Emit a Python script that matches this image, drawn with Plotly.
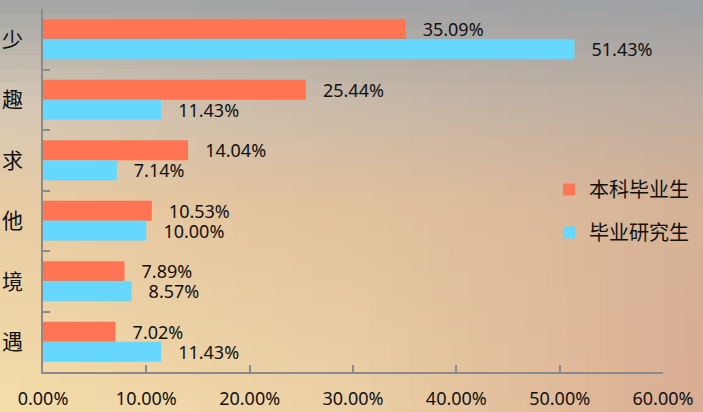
import plotly.graph_objects as go

# ---- data ----
categories = ["少", "趣", "求", "他", "境", "遇"]
undergrad = [35.09, 25.44, 14.04, 10.53, 7.89, 7.02]
graduate = [51.43, 11.43, 7.14, 10.00, 8.57, 11.43]
series_names = ["本科毕业生", "毕业研究生"]
x_ticks = [0, 10, 20, 30, 40, 50, 60]
x_tick_labels = ["0.00%", "10.00%", "20.00%", "30.00%", "40.00%", "50.00%", "60.00%"]

W, H = 703, 412
ML, MR, MT, MB = 43, 40, 9, 40
PW, PH = W - ML - MR, H - MT - MB

ORANGE = "#FF7452"
BLUE = "#66D8FF"
AXIS = "#8a8a8a"
FONT = "Noto Sans, Noto Sans CJK SC, sans-serif"
NB = "\u00a0\u00a0\u00a0"

fig = go.Figure()
fig.add_trace(go.Bar(
    y=categories, x=undergrad, orientation="h", name=series_names[0],
    marker=dict(color=ORANGE, line=dict(width=0)),
    text=[f"{NB}{v:.2f}%" for v in undergrad], textposition="outside",
    constraintext="none",
    textfont=dict(size=18, color="#111111", family=FONT), cliponaxis=False,
    legendgroup="a",
))
fig.add_trace(go.Bar(
    y=categories, x=graduate, orientation="h", name=series_names[1],
    marker=dict(color=BLUE, line=dict(width=0)),
    text=[f"{NB}{v:.2f}%" for v in graduate], textposition="outside",
    constraintext="none",
    textfont=dict(size=18, color="#111111", family=FONT), cliponaxis=False,
    legendgroup="b",
))

# ---- gradient background (style only) ----
ctrl_x = [0, 351, 703]
ctrl_y = [0, 100, 206, 412]
ctrl = [
    [(163, 165, 163), (160, 163, 165), (157, 161, 165)],
    [(214, 200, 182), (200, 184, 168), (188, 172, 160)],
    [(232, 204, 163), (226, 193, 157), (214, 178, 150)],
    [(245, 222, 170), (236, 208, 166), (217, 172, 146)],
]


def interp1(pts, vals, t):
    for i in range(len(pts) - 1):
        if t <= pts[i + 1]:
            f = (t - pts[i]) / (pts[i + 1] - pts[i])
            return tuple(vals[i][k] + (vals[i + 1][k] - vals[i][k]) * f for k in range(3))
    return vals[-1]


def color_at(px, py):
    rows = [interp1(ctrl_x, row, px) for row in ctrl]
    return interp1(ctrl_y, rows, py)


shapes = []
nx, ny = 36, 30
for i in range(nx):
    for j in range(ny):
        x0 = W * i / nx
        x1 = W * (i + 1) / nx
        y0 = H * j / ny
        y1 = H * (j + 1) / ny
        c = color_at((x0 + x1) / 2, (y0 + y1) / 2)
        shapes.append(dict(
            type="rect", xref="paper", yref="paper", layer="below",
            x0=(x0 - ML) / PW, x1=(x1 + 1 - ML) / PW,
            y0=(H - MB - (y1 + 1)) / PH, y1=(H - MB - y0) / PH,
            fillcolor="rgb(%d,%d,%d)" % tuple(int(round(v)) for v in c),
            line=dict(width=0),
        ))

fig.update_layout(
    width=W, height=H, autosize=False,
    margin=dict(l=ML, r=MR, t=MT, b=MB, pad=0, autoexpand=False),
    paper_bgcolor="rgba(0,0,0,0)", plot_bgcolor="rgba(0,0,0,0)",
    barmode="group", bargap=0.34, bargroupgap=0,
    font=dict(family=FONT, color="#111111"),
    shapes=shapes,
    showlegend=True,
    legend=dict(
        x=(549 - ML) / PW, xanchor="left",
        y=(H - MB - 170) / PH, yanchor="top",
        bgcolor="rgba(0,0,0,0)", font=dict(size=20, family=FONT),
        tracegroupgap=14, traceorder="grouped",
    ),
    xaxis=dict(
        range=[0, 60], tickvals=x_ticks, ticktext=x_tick_labels,
        ticks="inside", ticklen=7, tickwidth=1.5, tickcolor=AXIS,
        showline=True, linecolor=AXIS, linewidth=1.5, showgrid=False,
        zeroline=False, tickfont=dict(size=18, family=FONT),
        ticklabelstandoff=10, automargin=False,
    ),
    yaxis=dict(
        type="category", categoryorder="array", categoryarray=categories,
        autorange="reversed", tickson="boundaries",
        ticks="inside", ticklen=7, tickwidth=1.5, tickcolor=AXIS,
        showline=True, linecolor=AXIS, linewidth=1.5, showgrid=False,
        tickfont=dict(size=21, family=FONT), ticklabelstandoff=14,
        automargin=False,
    ),
)

fig.write_html(
    "out.html",
    config={"displayModeBar": False},
    post_script="document.body.style.margin='0';document.body.style.padding='0';",
)
